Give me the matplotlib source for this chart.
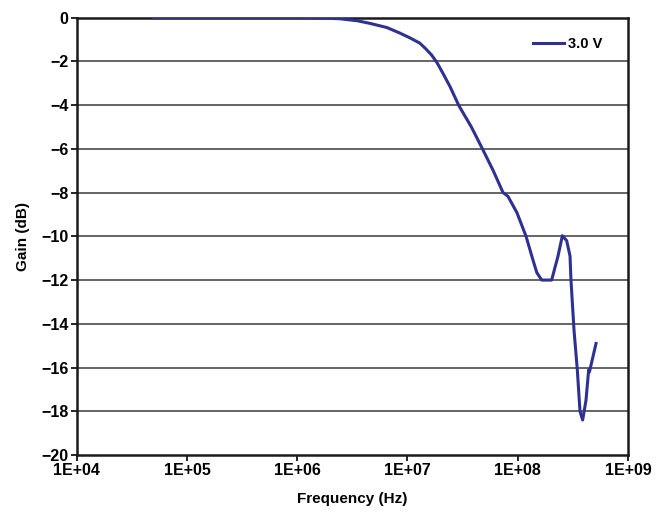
import numpy as np
import matplotlib
matplotlib.use('Agg')
import matplotlib.pyplot as plt
from matplotlib.ticker import FixedLocator, FixedFormatter, NullLocator

# frequency response
freq = [5e4, 1e5, 3e5, 1e6, 1.8e6, 2.44e6, 3.5e6, 4.56e6, 6.5e6, 8.5e6,
        1.05e7, 1.29e7, 1.45e7, 1.65e7, 1.85e7, 2.1e7, 2.43e7, 2.93e7,
        3.8e7, 4.83e7, 6e7, 7.34e7, 8.15e7, 9.84e7, 1.19e8, 1.37e8,
        1.49e8, 1.65e8, 2.03e8, 2.32e8, 2.54e8, 2.78e8, 2.98e8, 3.04e8,
        3.24e8, 3.47e8, 3.67e8, 3.88e8, 4.16e8, 4.40e8, 4.47e8, 5.13e8]
gain = [0.0, 0.0, 0.0, 0.0, -0.02, -0.05, -0.14, -0.26, -0.45, -0.70,
        -0.92, -1.16, -1.4, -1.7, -2.05, -2.55, -3.15, -4.03,
        -5.0, -6.04, -7.0, -7.99, -8.17, -8.92, -10.0, -11.06,
        -11.66, -12.0, -12.0, -10.9, -9.97, -10.2, -10.9, -12.0,
        -14.3, -16.1, -18.0, -18.4, -17.5, -16.1, -16.2, -14.9]

xticks = [1e4, 1e5, 1e6, 1e7, 1e8, 1e9]
xlabels = ['1E+04', '1E+05', '1E+06', '1E+07', '1E+08', '1E+09']
yticks = list(range(-20, 1, 2))

plt.rcParams['font.family'] = ['Liberation Sans', 'DejaVu Sans']
plt.rcParams['font.weight'] = 'bold'

fig = plt.figure(figsize=(6.7, 5.14), dpi=100)
ax = fig.add_axes([0.1145, 0.1148, 0.8228, 0.8508])

ax.set_xscale('log')
ax.set_xlim(1e4, 1e9)
ax.set_ylim(-20, 0)

for y in yticks[1:-1]:
    ax.axhline(y, color='#3a3a3a', lw=1.1, zorder=1)

ax.plot(freq, gain, color='#2e3192', lw=2.2, label='3.0 V', zorder=3)

ax.xaxis.set_major_locator(FixedLocator(xticks))
ax.xaxis.set_major_formatter(FixedFormatter(xlabels))
ax.xaxis.set_minor_locator(NullLocator())
ax.set_yticks(yticks)
ax.tick_params(axis='both', direction='out', length=4, width=1.2,
               labelsize=11.5, pad=2)
for lab in ax.get_xticklabels() + ax.get_yticklabels():
    lab.set_fontweight('bold')

for s in ax.spines.values():
    s.set_linewidth(1.8)
    s.set_color('#1a1a1a')

ax.set_xlabel('Frequency (Hz)', fontsize=11, fontweight='bold', labelpad=10)
ax.set_ylabel('Gain (dB)', fontsize=11, fontweight='bold', labelpad=8)

leg = ax.legend(loc='upper right', frameon=False, fontsize=10.5,
                handlelength=2.1, handletextpad=0.3,
                bbox_to_anchor=(0.978, 0.985))
for t in leg.get_texts():
    t.set_fontweight('bold')

fig.savefig('out.png', dpi=100)
